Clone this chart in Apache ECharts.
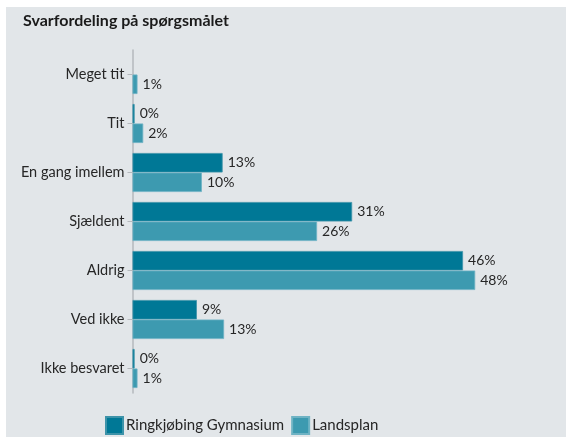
<!DOCTYPE html>
<html>
<head>
<meta charset="utf-8">
<script src="https://cdn.jsdelivr.net/npm/echarts@6/dist/echarts.min.js"></script>
<style>
  html, body { margin: 0; padding: 0; background: #fff; }
  #main { position: absolute; left: 6px; top: 7px; width: 560px; height: 430px; background: #e2e6e9; }
</style>
</head>
<body>
<div id="main"></div>
<script>
var categories = ['Meget tit', 'Tit', 'En gang imellem', 'Sjældent', 'Aldrig', 'Ved ikke', 'Ikke besvaret'];
var seriesNames = ['Ringkjøbing Gymnasium', 'Landsplan'];
var ringkobing = [null, 0.3, 12.6, 30.7, 46.2, 9.0, 0.3];
var landsplan = [0.7, 1.5, 9.7, 25.8, 47.9, 12.8, 0.7];

var myChart = echarts.init(document.getElementById('main'));
var font = 'Lato, "Open Sans", sans-serif';

function barSeries(name, data, color, border) {
  return {
    name: name,
    type: 'bar',
    barWidth: 19.5,
    barGap: 0,
    barMinHeight: 2,
    data: data,
    itemStyle: {
      color: color,
      borderColor: border,
      borderWidth: 0.8
    },
    label: {
      show: true,
      position: 'right',
      distance: 5,
      color: '#262626',
      fontFamily: font,
      fontSize: 14,
      formatter: function (p) { return Math.round(p.value) + '%'; }
    }
  };
}

var option = {
  animation: false,
  title: {
    text: 'Svarfordeling på spørgsmålet',
    left: 12,
    top: 1,
    textStyle: { fontFamily: font, fontSize: 16, fontWeight: 'bold', color: '#1a1a1a' }
  },
  legend: {
    data: seriesNames,
    left: 94,
    top: 404,
    itemWidth: 17,
    itemHeight: 17,
    itemGap: 7,
    icon: 'rect',
    textStyle: { fontFamily: font, fontSize: 15, color: '#262626', padding: [0, 0, 0, -2] }
  },
  grid: { left: 126.5, right: 40, top: 43, bottom: 44 },
  xAxis: {
    type: 'value',
    min: 0,
    max: 55,
    show: false
  },
  yAxis: {
    type: 'category',
    inverse: true,
    data: categories,
    axisLine: { lineStyle: { color: '#b4b8bc', width: 1.5 } },
    axisTick: { show: true, alignWithLabel: true, length: 5, lineStyle: { color: '#b4b8bc' } },
    axisLabel: { fontFamily: font, fontSize: 14.5, color: '#262626', margin: 8 }
  },
  series: [
    barSeries(seriesNames[0], ringkobing, '#007896', '#3d93a9'),
    barSeries(seriesNames[1], landsplan, '#3d9ab0', '#6fb3c4')
  ]
};
myChart.setOption(option);
</script>
</body>
</html>
